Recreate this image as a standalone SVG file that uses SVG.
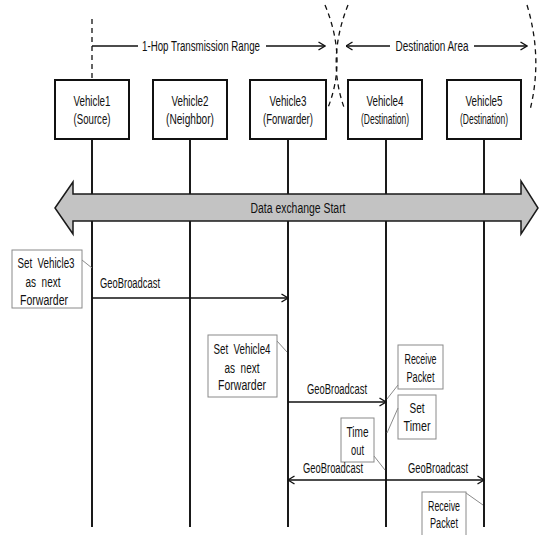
<svg xmlns="http://www.w3.org/2000/svg" width="539" height="535" viewBox="0 0 539 535">
<defs>
<style>
text{font-family:"Liberation Sans",Arial,sans-serif;font-size:14px;fill:#111;text-anchor:middle;dominant-baseline:central}
.vbox{fill:#fff;stroke:#111;stroke-width:2}
.note{fill:#fff;stroke:#8a8a8a;stroke-width:1}
.life{stroke:#1a1a1a;stroke-width:2;fill:none}
.msg{stroke:#111;stroke-width:1.5;fill:none}
.lead{stroke:#8a8a8a;stroke-width:1;fill:none}
.dash{stroke:#111;stroke-width:1.3;fill:none;stroke-dasharray:5 4}
</style>
<marker id="ah" viewBox="0 0 8 10" refX="7.5" refY="5" markerWidth="8" markerHeight="10" markerUnits="userSpaceOnUse" orient="auto-start-reverse">
<path d="M1,1 L7.5,5 L1,9" fill="none" stroke="#111" stroke-width="1.4"/>
</marker>
</defs>
<rect width="539" height="535" fill="#fff"/>

<g id="range-markers">
<line class="dash" x1="92" y1="19" x2="92" y2="80"/>
<path class="dash" d="M325,5 Q348,60 327,110"/>
<path class="dash" d="M348,5 Q326,60 345,110"/>
<path class="dash" d="M527,5 Q543,58 530,110"/>
<line class="msg" x1="92" y1="46" x2="138" y2="46"/>
<text x="201" y="46" textLength="118" lengthAdjust="spacingAndGlyphs">1-Hop Transmission Range</text>
<line class="msg" x1="266" y1="46" x2="325" y2="46" marker-end="url(#ah)"/>
<line class="msg" x1="346" y1="46" x2="390" y2="46" marker-start="url(#ah)"/>
<text x="432" y="46" textLength="73" lengthAdjust="spacingAndGlyphs">Destination Area</text>
<line class="msg" x1="474" y1="46" x2="527" y2="46" marker-end="url(#ah)"/>
</g>

<g id="lifelines">
<line class="life" x1="92" y1="139" x2="92" y2="527"/>
<line class="life" x1="190" y1="139" x2="190" y2="527"/>
<line class="life" x1="288" y1="139" x2="288" y2="527"/>
<line class="life" x1="386" y1="139" x2="386" y2="527"/>
<line class="life" x1="484" y1="139" x2="484" y2="527"/>
</g>

<g id="vehicle1">
<rect class="vbox" x="55" y="80" width="74" height="59"/>
<text x="92" y="101" textLength="37" lengthAdjust="spacingAndGlyphs">Vehicle1</text>
<text x="92" y="119" textLength="37" lengthAdjust="spacingAndGlyphs">(Source)</text>
</g>
<g id="vehicle2">
<rect class="vbox" x="153" y="80" width="74" height="59"/>
<text x="190" y="101" textLength="37" lengthAdjust="spacingAndGlyphs">Vehicle2</text>
<text x="190" y="119" textLength="48" lengthAdjust="spacingAndGlyphs">(Neighbor)</text>
</g>
<g id="vehicle3">
<rect class="vbox" x="250" y="80" width="76" height="59"/>
<text x="288" y="101" textLength="37" lengthAdjust="spacingAndGlyphs">Vehicle3</text>
<text x="288" y="119" textLength="50" lengthAdjust="spacingAndGlyphs">(Forwarder)</text>
</g>
<g id="vehicle4">
<rect class="vbox" x="348" y="80" width="74" height="59"/>
<text x="385" y="101" textLength="37" lengthAdjust="spacingAndGlyphs">Vehicle4</text>
<text x="385" y="119" textLength="48" lengthAdjust="spacingAndGlyphs">(Destination)</text>
</g>
<g id="vehicle5">
<rect class="vbox" x="447" y="80" width="74" height="59"/>
<text x="484" y="101" textLength="37" lengthAdjust="spacingAndGlyphs">Vehicle5</text>
<text x="484" y="119" textLength="48" lengthAdjust="spacingAndGlyphs">(Destination)</text>
</g>

<g id="data-exchange">
<polygon points="55,208 73,182 73,194 521,194 521,181 538,208 521,234 521,221 73,221 73,234" fill="#c3c3c3" stroke="#1a1a1a" stroke-width="1.5" stroke-linejoin="miter"/>
<text x="298" y="208" textLength="95" lengthAdjust="spacingAndGlyphs">Data exchange Start</text>
</g>

<g id="note-set-vehicle3">
<rect class="note" x="12" y="250" width="70" height="58"/>
<text x="46" y="263" textLength="57" lengthAdjust="spacingAndGlyphs" xml:space="preserve">Set  Vehicle3</text>
<text x="43" y="282" textLength="35" lengthAdjust="spacingAndGlyphs" xml:space="preserve">as  next</text>
<text x="44" y="300" textLength="48" lengthAdjust="spacingAndGlyphs">Forwarder</text>
</g>
<g id="note-set-vehicle4">
<rect class="note" x="208" y="335" width="69" height="62"/>
<text x="242" y="349" textLength="57" lengthAdjust="spacingAndGlyphs" xml:space="preserve">Set  Vehicle4</text>
<text x="242" y="368" textLength="35" lengthAdjust="spacingAndGlyphs" xml:space="preserve">as  next</text>
<text x="242" y="385" textLength="48" lengthAdjust="spacingAndGlyphs">Forwarder</text>
</g>
<g id="note-receive-packet-4">
<rect class="note" x="398" y="345" width="45" height="44"/>
<text x="420.5" y="359" textLength="32" lengthAdjust="spacingAndGlyphs">Receive</text>
<text x="420.5" y="377" textLength="28" lengthAdjust="spacingAndGlyphs">Packet</text>
</g>
<g id="note-set-timer">
<rect class="note" x="398" y="395" width="38" height="44"/>
<text x="417" y="408" textLength="15" lengthAdjust="spacingAndGlyphs">Set</text>
<text x="417" y="426" textLength="27" lengthAdjust="spacingAndGlyphs">Timer</text>
</g>
<g id="note-time-out">
<rect class="note" x="341" y="418" width="33" height="44"/>
<text x="357.5" y="432" textLength="22" lengthAdjust="spacingAndGlyphs">Time</text>
<text x="357.5" y="450" textLength="13" lengthAdjust="spacingAndGlyphs">out</text>
</g>
<g id="note-receive-packet-5">
<rect class="note" x="422" y="492" width="44" height="60"/>
<text x="444" y="506" textLength="32" lengthAdjust="spacingAndGlyphs">Receive</text>
<text x="444" y="523" textLength="28" lengthAdjust="spacingAndGlyphs">Packet</text>
</g>

<g id="connectors">
<line class="lead" x1="82" y1="260" x2="92" y2="268"/>
<line class="lead" x1="277" y1="341" x2="287" y2="352"/>
<line class="lead" x1="398" y1="385" x2="387" y2="399"/>
<line class="lead" x1="398" y1="408" x2="387" y2="433"/>
<line class="lead" x1="374" y1="456" x2="385" y2="470"/>
<line class="lead" x1="466" y1="493" x2="483" y2="505"/>
<line class="msg" x1="92" y1="298" x2="288" y2="298" marker-end="url(#ah)"/>
<text x="130" y="283" textLength="60" lengthAdjust="spacingAndGlyphs">GeoBroadcast</text>
<line class="msg" x1="288" y1="402" x2="386" y2="402" marker-end="url(#ah)"/>
<text x="337" y="389" textLength="60" lengthAdjust="spacingAndGlyphs">GeoBroadcast</text>
<line class="msg" x1="288" y1="480" x2="484" y2="480" marker-start="url(#ah)" marker-end="url(#ah)"/>
<text x="333" y="468" textLength="60" lengthAdjust="spacingAndGlyphs">GeoBroadcast</text>
<text x="438" y="468" textLength="60" lengthAdjust="spacingAndGlyphs">GeoBroadcast</text>
</g>
</svg>
